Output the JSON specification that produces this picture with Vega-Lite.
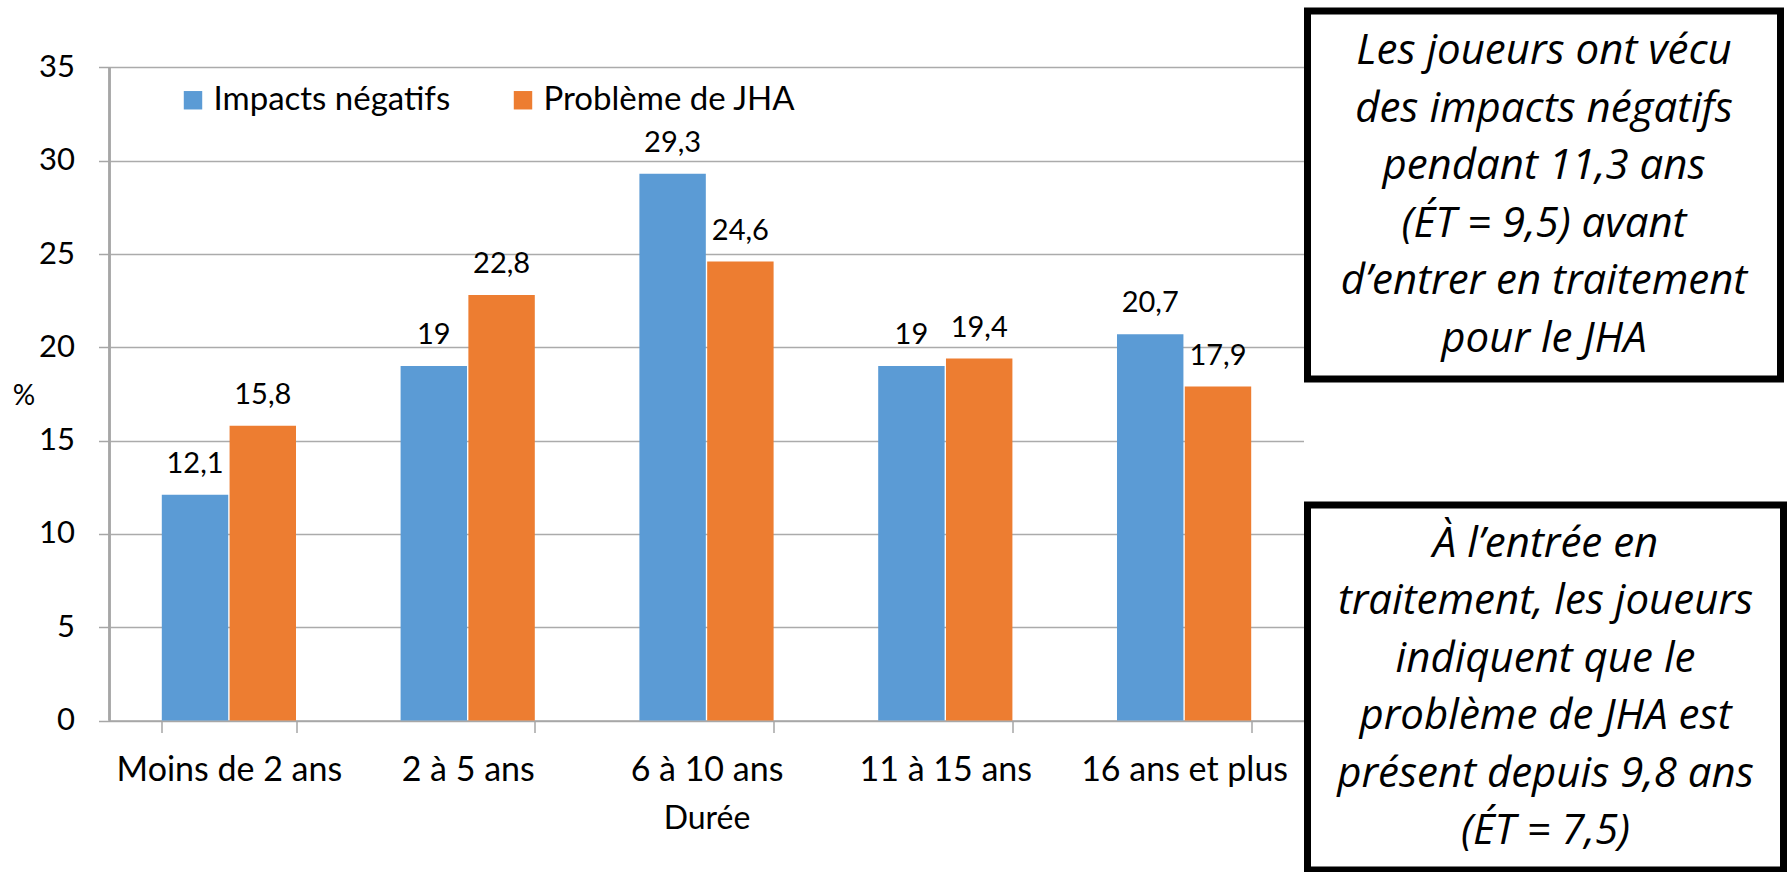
{
  "$schema": "https://vega.github.io/schema/vega-lite/v6.json",
  "padding": {"left": 11.5, "top": 7, "right": 0, "bottom": 0},
  "spacing": 0,
  "config": {
    "locale": {"number": {"decimal": ",", "thousands": " ", "grouping": [3], "currency": ["", " €"]}},
    "font": "Lato",
    "view": {"stroke": null},
    "axis": {
      "labelFont": "Lato", "titleFont": "Lato", "labelColor": "#000000", "titleColor": "#000000",
      "titleFontWeight": "normal", "domainColor": "#a6a6a6", "tickColor": "#a6a6a6", "gridColor": "#ababab",
      "domainWidth": 1.5, "tickWidth": 1.5, "gridWidth": 1.5, "labelLimit": 0
    }
  },
  "hconcat": [
    {
      "width": 1194,
      "height": 709.5,
      "data": {
        "values": [
          {"duree": "Moins de 2 ans", "serie": "Impacts négatifs", "pct": 12.1},
          {"duree": "Moins de 2 ans", "serie": "Problème de JHA", "pct": 15.8},
          {"duree": "2 à 5 ans", "serie": "Impacts négatifs", "pct": 19},
          {"duree": "2 à 5 ans", "serie": "Problème de JHA", "pct": 22.8},
          {"duree": "6 à 10 ans", "serie": "Impacts négatifs", "pct": 29.3},
          {"duree": "6 à 10 ans", "serie": "Problème de JHA", "pct": 24.6},
          {"duree": "11 à 15 ans", "serie": "Impacts négatifs", "pct": 19},
          {"duree": "11 à 15 ans", "serie": "Problème de JHA", "pct": 19.4},
          {"duree": "16 ans et plus", "serie": "Impacts négatifs", "pct": 20.7},
          {"duree": "16 ans et plus", "serie": "Problème de JHA", "pct": 17.9}
        ]
      },
      "resolve": {"scale": {"x": "independent"}},
      "layer": [
        {
          "encoding": {
            "x": {
              "field": "duree", "type": "nominal",
              "sort": ["Moins de 2 ans", "2 à 5 ans", "6 à 10 ans", "11 à 15 ans", "16 ans et plus"],
              "scale": {"paddingInner": 0.438, "paddingOuter": 0.219},
              "axis": {
                "title": "Durée", "titleFontSize": 32, "titlePadding": 16,
                "labelAngle": 0, "labelFontSize": 34, "labelPadding": 21,
                "tickBand": "extent", "tickSize": 12, "domain": true, "ticks": true, "grid": false
              }
            },
            "xOffset": {
              "field": "serie", "type": "nominal",
              "sort": ["Impacts négatifs", "Problème de JHA"],
              "scale": {"paddingInner": 0.02}
            },
            "y": {
              "field": "pct", "type": "quantitative",
              "scale": {"domain": [0, 38.028], "nice": false},
              "axis": {
                "title": "%", "titleAngle": 0, "titleX": -86, "titleY": 385.5,
                "titleAlign": "center", "titleBaseline": "middle", "titleFontSize": 28,
                "values": [0, 5, 10, 15, 20, 25, 30, 35],
                "tickSize": 11, "labelPadding": 24, "labelFontSize": 31,
                "grid": true, "domain": false, "ticks": true
              }
            }
          },
          "layer": [
            {
              "mark": {"type": "bar"},
              "encoding": {
                "color": {
                  "field": "serie", "type": "nominal",
                  "scale": {"domain": ["Impacts négatifs", "Problème de JHA"], "range": ["#5B9BD5", "#ED7D31"]},
                  "legend": {
                    "title": null, "orient": "none", "legendX": 67, "legendY": 72.5, "direction": "horizontal",
                    "symbolType": "square", "symbolSize": 340, "symbolStrokeWidth": 0,
                    "labelFont": "Lato", "labelFontSize": 33, "labelColor": "#000000", "labelLimit": 0,
                    "columnPadding": 56, "labelOffset": 4, "padding": 0
                  }
                }
              }
            },
            {
              "mark": {"type": "text", "baseline": "alphabetic", "dy": -22, "fontSize": 29, "color": "#000000"},
              "encoding": {"text": {"field": "pct", "type": "quantitative", "format": ".1~f"}}
            }
          ]
        },
        {
          "mark": {"type": "rule", "color": "#a6a6a6", "strokeWidth": 1.5},
          "encoding": {
            "x": {"datum": 0, "type": "quantitative", "scale": {"domain": [0, 1]}, "axis": null},
            "y": {"datum": 0, "type": "quantitative"},
            "y2": {"datum": 35}
          }
        }
      ]
    },
    {
      "spacing": 118,
      "vconcat": [
        {
          "width": 473,
          "height": 368,
          "view": {"stroke": "#000000", "strokeWidth": 7},
          "data": {"values": [{"texte": "Les joueurs ont vécu\ndes impacts négatifs\npendant 11,3 ans\n(ÉT = 9,5) avant\nd’entrer en traitement\npour le JHA"}]},
          "mark": {"type": "text", "lineBreak": "\n", "font": "Open Sans", "fontStyle": "italic", "fontSize": 42, "lineHeight": 57.5, "align": "center", "baseline": "middle", "dy": -143.75, "color": "#000000"},
          "encoding": {"text": {"field": "texte", "type": "nominal"}}
        },
        {
          "width": 476,
          "height": 365,
          "view": {"stroke": "#000000", "strokeWidth": 7},
          "data": {"values": [{"texte": "À l’entrée en\ntraitement, les joueurs\nindiquent que le\nproblème de JHA est\nprésent depuis 9,8 ans\n(ÉT = 7,5)"}]},
          "mark": {"type": "text", "lineBreak": "\n", "font": "Open Sans", "fontStyle": "italic", "fontSize": 42, "lineHeight": 57.5, "align": "center", "baseline": "middle", "dy": -143.75, "color": "#000000"},
          "encoding": {"text": {"field": "texte", "type": "nominal"}}
        }
      ]
    }
  ]
}
